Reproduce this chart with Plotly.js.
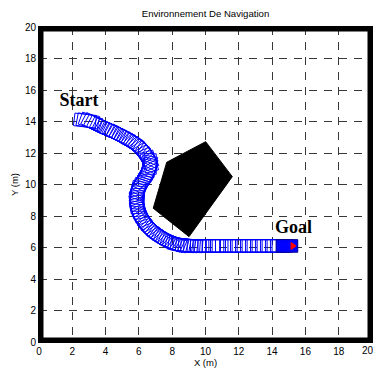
<!DOCTYPE html>
<html>
<head>
<meta charset="utf-8">
<script src="https://cdn.plot.ly/plotly-3.0.1.min.js"></script>
<style>html,body{margin:0;padding:0;background:#fff;}#chart{width:376px;height:376px;}</style>
</head>
<body>
<div id="chart"></div>
<script>
// ---- data ----
const wallX = [0, 20, 20, 0, 0];
const wallY = [0, 0, 20, 20, 0];

const obstacleX = [10.01, 11.61, 9.01, 6.86, 7.67];
const obstacleY = [12.72, 10.50, 6.69, 8.49, 11.41];

// robot centre positions along the trail
const trailX = [2.76, 2.93, 3.10, 3.27, 3.44, 3.61, 3.77, 3.92, 4.07, 4.22,
                4.37, 4.52, 4.67, 4.82, 4.97, 5.12, 5.27, 5.42, 5.57, 5.70,
                5.82, 5.94, 6.05, 6.16, 6.26, 6.36, 6.46, 6.55, 6.62, 6.64,
                6.62, 6.59, 6.55, 6.50, 6.43, 6.35, 6.27, 6.19, 6.12, 6.05,
                5.98, 5.95, 5.93, 5.91, 5.90, 5.90, 5.90, 5.92, 5.96, 6.00,
                6.06, 6.13, 6.20, 6.29, 6.38, 6.47, 6.56, 6.66, 6.77, 6.88,
                7.00, 7.11, 7.23, 7.35, 7.47, 7.60, 7.73, 7.86, 8.00, 8.13,
                8.27, 8.42, 8.57, 8.72, 8.87, 9.02, 9.17, 9.35, 9.55, 9.75,
                9.95, 10.20, 10.45, 10.70, 10.95, 11.25, 11.55, 11.85, 12.15, 12.45,
                12.75, 13.05, 13.35, 13.65, 13.95, 14.25, 14.55, 14.89];
const trailY = [14.06, 14.04, 14.00, 13.92, 13.83, 13.75, 13.67, 13.60, 13.53, 13.46,
                13.39, 13.32, 13.25, 13.17, 13.08, 12.99, 12.90, 12.81, 12.72, 12.63,
                12.53, 12.43, 12.32, 12.20, 12.08, 11.93, 11.78, 11.62, 11.45, 11.30,
                11.15, 11.01, 10.88, 10.74, 10.60, 10.45, 10.30, 10.15, 10.00, 9.85,
                9.71, 9.55, 9.40, 9.25, 9.10, 8.95, 8.81, 8.64, 8.48, 8.32,
                8.16, 8.00, 7.85, 7.71, 7.58, 7.45, 7.33, 7.22, 7.11, 7.01,
                6.92, 6.83, 6.74, 6.66, 6.58, 6.51, 6.44, 6.38, 6.32, 6.27,
                6.22, 6.19, 6.17, 6.15, 6.13, 6.12, 6.11, 6.10, 6.10, 6.10,
                6.10, 6.10, 6.10, 6.10, 6.10, 6.10, 6.10, 6.10, 6.10, 6.10,
                6.10, 6.10, 6.10, 6.10, 6.10, 6.10, 6.10, 6.10];

const labelText = ['Start', 'Goal'];
const labelX = [2.4, 15.29];
const labelY = [15.3, 7.2];

const tickVals = [0, 2, 4, 6, 8, 10, 12, 14, 16, 18, 20];
const tickLabels = ['0', '2', '4', '6', '8', '10', '12', '14', '16', '18', '20'];

// ---- robot geometry ----
const robotLength = 1.3, robotWidth = 0.8;

function heading(i) {
  const a = Math.max(0, i - 1), b = Math.min(trailX.length - 1, i + 1);
  return Math.atan2(trailY[b] - trailY[a], trailX[b] - trailX[a]);
}
function local(cx, cy, th, f, s) {
  const c = Math.cos(th), sn = Math.sin(th);
  return [cx + f * c - s * sn, cy + f * sn + s * c];
}
function box(i) {
  const th = heading(i), L = robotLength / 2, W = robotWidth / 2;
  return [[L, W], [-L, W], [-L, -W], [L, -W], [L, W]].map(p => local(trailX[i], trailY[i], th, p[0], p[1]));
}

const rx = [], ry = [];
for (let i = 0; i < trailX.length - 1; i++) {
  box(i).forEach(p => { rx.push(p[0]); ry.push(p[1]); });
  rx.push(null); ry.push(null);
}
const last = trailX.length - 1;
const finalBox = box(last);
const thLast = heading(last);
const tri = [[0.25, 0.22], [0.25, -0.22], [0.55, 0], [0.25, 0.22]].map(p => local(trailX[last], trailY[last], thLast, p[0], p[1]));

const traces = [
  { x: obstacleX.concat([obstacleX[0]]), y: obstacleY.concat([obstacleY[0]]), mode: 'lines', fill: 'toself',
    fillcolor: '#000000', line: { color: '#000000', width: 1 }, hoverinfo: 'skip' },
  { x: rx, y: ry, mode: 'lines', line: { color: '#0000ff', width: 1 }, hoverinfo: 'skip' },
  { x: finalBox.map(p => p[0]), y: finalBox.map(p => p[1]), mode: 'lines', fill: 'toself',
    fillcolor: '#0000ff', line: { color: '#00008b', width: 1 }, hoverinfo: 'skip' },
  { x: tri.map(p => p[0]), y: tri.map(p => p[1]), mode: 'lines', fill: 'toself',
    fillcolor: '#ff0000', line: { color: '#ff0000', width: 1 }, hoverinfo: 'skip' },
  { x: wallX, y: wallY, mode: 'lines', line: { color: '#000000', width: 9 }, hoverinfo: 'skip' },
  { x: labelX, y: labelY, mode: 'text', text: labelText, textposition: 'middle center',
    textfont: { family: 'Liberation Serif', size: 18, color: '#000000', weight: 'bold' }, hoverinfo: 'skip' }
];

const tickFont = { family: 'Liberation Sans', size: 10, color: '#000000' };
const axisCommon = {
  range: [0, 20], tickvals: tickVals,
  showgrid: true, gridcolor: '#383838', gridwidth: 1, griddash: '8px,7px',
  zeroline: false, showline: true, linecolor: '#000000', linewidth: 1, mirror: true,
  ticks: '', tickfont: tickFont, fixedrange: true
};

// the last x label would run past the page edge; it is drawn as an annotation nudged inwards
const lastIdx = tickLabels.length - 1;
const xTickText = tickLabels.map((t, i) => i === lastIdx ? '' : t);

const layout = {
  width: 376, height: 376,
  margin: { l: 39, r: 4, t: 27, b: 34, pad: 0 },
  paper_bgcolor: '#ffffff', plot_bgcolor: '#ffffff',
  showlegend: false,
  title: { text: 'Environnement De Navigation', font: { family: 'Liberation Sans', size: 9.6, color: '#000000' },
           x: 0.5, xref: 'paper', y: 1 - 14 / 376, yref: 'container', yanchor: 'middle' },
  xaxis: Object.assign({}, axisCommon, { ticktext: xTickText,
           title: { text: 'X (m)', standoff: 0, font: { family: 'Liberation Sans', size: 9.5, color: '#000000' } } }),
  yaxis: Object.assign({}, axisCommon, { ticktext: tickLabels,
           title: { text: 'Y (m)', standoff: 4, font: { family: 'Liberation Sans', size: 9.5, color: '#000000' } } }),
  annotations: [{ x: tickVals[lastIdx], xref: 'x', y: 0, yref: 'paper', text: tickLabels[lastIdx],
                  showarrow: false, xanchor: 'right', yanchor: 'top', xshift: 3, yshift: -2,
                  borderpad: 0, font: tickFont }]
};

Plotly.newPlot('chart', traces, layout, { staticPlot: true, displayModeBar: false });
</script>
</body>
</html>
